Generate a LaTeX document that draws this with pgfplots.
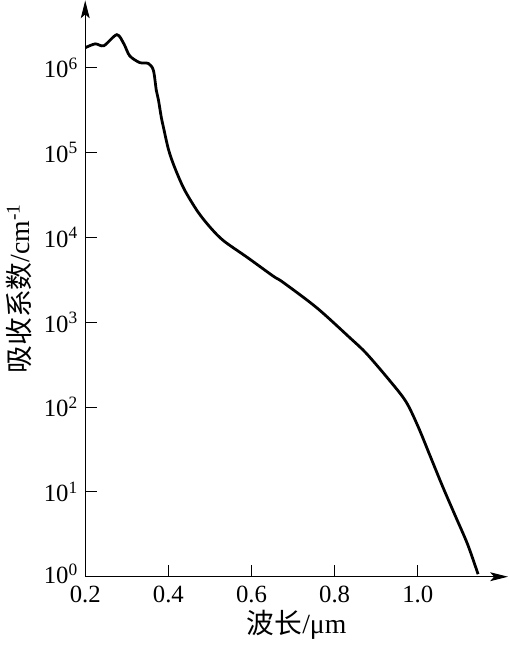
\documentclass[border=0pt]{standalone}
\usepackage{fontspec}
\setmainfont{Liberation Serif}
\newfontfamily\cjk{Noto Sans CJK SC}
\usepackage{pgfplots}
\pgfplotsset{compat=1.18}
\usetikzlibrary{arrows.meta}
\begin{document}
\begin{tikzpicture}
\begin{semilogyaxis}[
    scale only axis,
    width=213.5pt, height=291pt,
    xmin=0.2, xmax=1.217,
    ymin=1, ymax=6.2e6,
    axis x line=bottom,
    axis y line=left,
    axis line style={line width=0.5pt},
    every outer x axis line/.append style={-{Stealth[length=9pt,width=4.5pt,inset=2pt]}},
    every outer y axis line/.append style={-{Stealth[length=9pt,width=4.5pt,inset=2pt]}},
    font=\fontsize{12.5}{14}\selectfont,
    xtick={0.2,0.4,0.6,0.8,1.0},
    xticklabels={0.2,0.4,0.6,0.8,1.0},
    ytick={1,10,100,1000,1e4,1e5,1e6},
    yticklabels={\raisebox{3pt}{10\textsuperscript{0}},10\textsuperscript{1},10\textsuperscript{2},10\textsuperscript{3},10\textsuperscript{4},10\textsuperscript{5},10\textsuperscript{6}},
    yminorticks=false,
    xtick pos=bottom, ytick pos=left,
    tick align=inside,
    major tick length=6pt,
    every tick/.style={black, line width=0.5pt},
    xticklabel style={yshift=-1pt},
    xlabel={{\cjk 波长}/μm},
    ylabel={{\cjk 吸收系数}/cm\textsuperscript{-1}},
    label style={font=\fontsize{14}{16}\selectfont},
    xlabel style={yshift=3pt},
    ylabel style={yshift=-1pt},
]
% absorption coefficient vs wavelength
\addplot[black, line width=1.4pt, smooth, tension=0.5] coordinates {
    (0.200, 1.72e6) (0.224, 1.91e6) (0.245, 1.82e6) (0.276, 2.45e6)
    (0.293, 1.91e6) (0.307, 1.38e6) (0.331, 1.15e6) (0.352, 1.12e6)
    (0.364, 9.3e5) (0.371, 5.4e5) (0.376, 4.2e5) (0.383, 2.6e5)
    (0.388, 2.0e5) (0.400, 1.1e5) (0.414, 6.9e4) (0.438, 3.7e4)
    (0.471, 2.0e4) (0.502, 1.29e4) (0.533, 9.1e3) (0.590, 5.8e3)
    (0.652, 3.5e3) (0.676, 2.95e3) (0.757, 1.48e3) (0.836, 660)
    (0.876, 430) (0.931, 209) (0.971, 117) (1.000, 60)
    (1.030, 26.3) (1.060, 11.5) (1.090, 5.25) (1.120, 2.4) (1.145, 1.07)
};
\end{semilogyaxis}
\end{tikzpicture}
\end{document}
